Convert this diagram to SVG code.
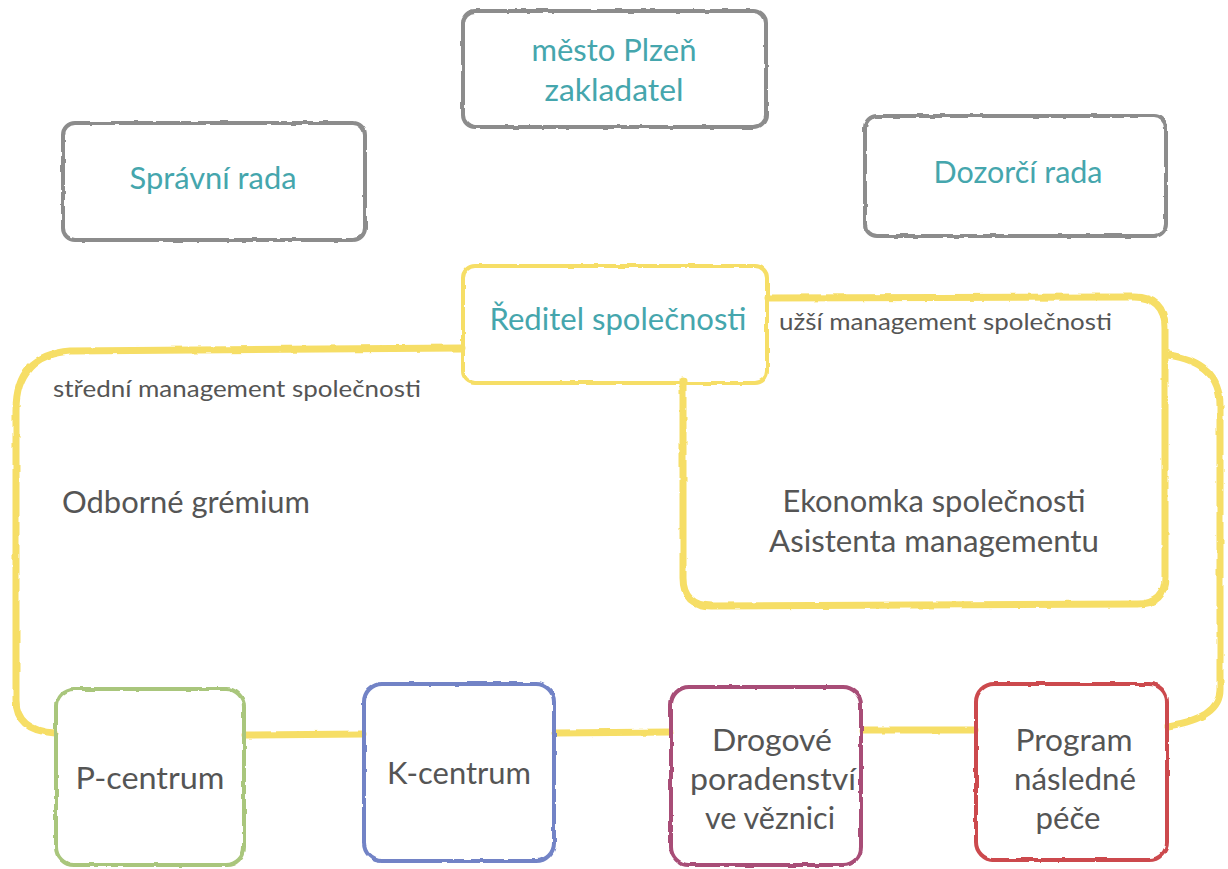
<svg xmlns="http://www.w3.org/2000/svg" width="1228" height="869" viewBox="0 0 1228 869">
<style>
.box{fill:none;stroke-width:4;stroke-linejoin:round;filter:url(#rough)}
.gray{stroke:#8c8c8c}
.yel{stroke:#f6de66}
.conn{fill:none;stroke:#f6de66;stroke-width:7;stroke-linecap:round;stroke-linejoin:round;filter:url(#rough)}
.t{font-family:Lato,"Open Sans",sans-serif;text-anchor:middle}
.teal{fill:#45a6ad;font-size:30px}
.dark{fill:#555555;font-size:30px}
.small{fill:#555555;font-size:23px;font-family:Lato,"Open Sans",sans-serif}
</style>
<defs>
<filter id="rough" filterUnits="userSpaceOnUse" x="0" y="0" width="1228" height="869">
<feTurbulence type="fractalNoise" baseFrequency="0.08" numOctaves="2" seed="3" result="n"/>
<feDisplacementMap in="SourceGraphic" in2="n" scale="3" xChannelSelector="R" yChannelSelector="G"/>
</filter>
</defs>
<rect width="1228" height="869" fill="#ffffff"/>
<g id="connectors">
<path class="conn" d="M462 348 L70 351 Q16 355 16 410 L16 700 Q16 731 55 733"/>
<path class="conn" d="M245 735 L363 734"/>
<path class="conn" d="M555 733 L670 732"/>
<path class="conn" d="M862 730 L975 730"/>
<path class="conn" d="M1168 355 Q1220 362 1220 405 L1220 690 Q1220 718 1168 726"/>
<path class="conn" d="M683 380 L683 578 Q683 606 712 606 L1138 604 Q1165 604 1165 577 L1165 328 Q1165 297 1134 297 L768 298"/>
</g>
<g id="node-mesto">
<rect class="box gray" x="463" y="11" width="303" height="116" rx="12"/>
<text class="t teal" x="614" y="61" textLength="165" lengthAdjust="spacingAndGlyphs">město Plzeň</text>
<text class="t teal" x="614" y="101" textLength="139" lengthAdjust="spacingAndGlyphs">zakladatel</text>
</g>
<g id="node-spravni">
<rect class="box gray" x="63" y="123" width="302" height="117" rx="12"/>
<text class="t teal" x="213" y="189" textLength="167" lengthAdjust="spacingAndGlyphs">Správní rada</text>
</g>
<g id="node-dozorci">
<rect class="box gray" x="865" y="116" width="301" height="120" rx="12"/>
<text class="t teal" x="1018" y="183" textLength="169" lengthAdjust="spacingAndGlyphs">Dozorčí rada</text>
</g>
<g id="node-reditel">
<rect class="box yel" x="463" y="266" width="304" height="117" rx="12"/>
<text class="t teal" x="618" y="330" textLength="257" lengthAdjust="spacingAndGlyphs">Ředitel společnosti</text>
</g>
<g id="label-uzsi">
<text class="small" x="779" y="330" textLength="333" lengthAdjust="spacingAndGlyphs">užší management společnosti</text>
</g>
<g id="label-stredni">
<text class="small" x="53" y="397" textLength="368" lengthAdjust="spacingAndGlyphs">střední management společnosti</text>
</g>
<g id="node-odborne">
<text class="dark" font-family="Lato, 'Open Sans', sans-serif" x="62" y="513" textLength="248" lengthAdjust="spacingAndGlyphs">Odborné grémium</text>
</g>
<g id="node-ekonomka">
<text class="t dark" x="934" y="512" textLength="303" lengthAdjust="spacingAndGlyphs">Ekonomka společnosti</text>
<text class="t dark" x="934" y="552" textLength="330" lengthAdjust="spacingAndGlyphs">Asistenta managementu</text>
</g>
<g id="node-pcentrum">
<rect class="box" stroke="#a9c67c" x="56" y="689" width="188" height="176" rx="18"/>
<text class="t dark" x="150" y="789" textLength="149" lengthAdjust="spacingAndGlyphs">P-centrum</text>
</g>
<g id="node-kcentrum">
<rect class="box" stroke="#7283c6" x="364" y="684" width="190" height="177" rx="18"/>
<text class="t dark" x="459" y="784" textLength="144" lengthAdjust="spacingAndGlyphs">K-centrum</text>
</g>
<g id="node-drogove">
<rect class="box" stroke="#a84d77" x="671" y="687" width="190" height="178" rx="18"/>
<text class="t dark" x="772" y="751" textLength="120" lengthAdjust="spacingAndGlyphs">Drogové</text>
<text class="t dark" x="773" y="790" textLength="166" lengthAdjust="spacingAndGlyphs">poradenství</text>
<text class="t dark" x="770" y="829" textLength="130" lengthAdjust="spacingAndGlyphs">ve věznici</text>
</g>
<g id="node-program">
<rect class="box" stroke="#cc4a4e" x="976" y="684" width="191" height="176" rx="18"/>
<text class="t dark" x="1074" y="751" textLength="117" lengthAdjust="spacingAndGlyphs">Program</text>
<text class="t dark" x="1075" y="790" textLength="122" lengthAdjust="spacingAndGlyphs">následné</text>
<text class="t dark" x="1068" y="829" textLength="65" lengthAdjust="spacingAndGlyphs">péče</text>
</g>
</svg>
